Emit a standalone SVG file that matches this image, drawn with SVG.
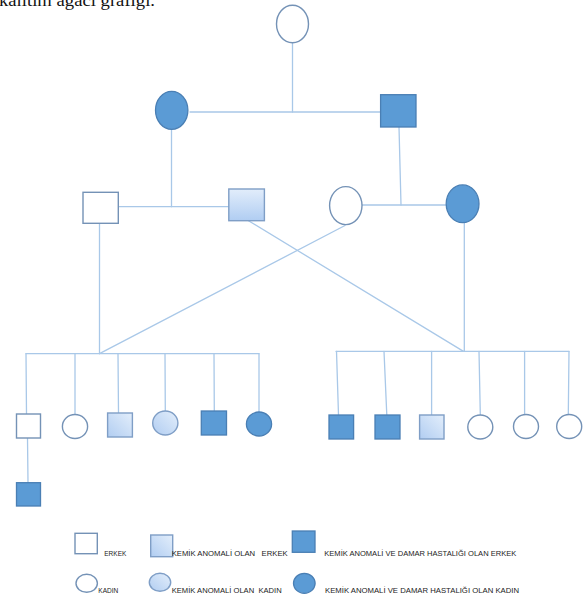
<svg xmlns="http://www.w3.org/2000/svg" width="586" height="599" viewBox="0 0 586 599">
<defs>
<linearGradient id="gv" x1="0" y1="0" x2="0" y2="1">
<stop offset="0" stop-color="#e2edfb"/><stop offset="1" stop-color="#b0cdf2"/>
</linearGradient>
<linearGradient id="gd" x1="1" y1="0" x2="0" y2="1">
<stop offset="0" stop-color="#e3eefb"/><stop offset="1" stop-color="#b1cdf1"/>
</linearGradient>
<style>
.c{stroke:#a9c8e8;stroke-width:1.3;fill:none;stroke-linecap:round}
.w{fill:#ffffff;stroke:#7492b6;stroke-width:1.4}
.l{fill:url(#gd);stroke:#7f9ec6;stroke-width:1.4}
.lv{fill:url(#gv);stroke:#7f9ec6;stroke-width:1.4}
.d{fill:#5b9bd5;stroke:#4a7fb4;stroke-width:1.3}
.t{font-family:"Liberation Sans",Arial,sans-serif;font-size:6.8px;fill:#222}
</style>
</defs>
<rect width="586" height="599" fill="#ffffff"/>
<text x="-1" y="5.5" font-family="'Liberation Serif','DejaVu Serif',serif" font-size="17" fill="#111" textLength="156" lengthAdjust="spacingAndGlyphs">kalıtım ağacı grafiği.</text>

<g id="connectors">
<line class="c" x1="292.5" y1="43" x2="292.5" y2="112"/>
<line class="c" x1="190" y1="112" x2="380.5" y2="112"/>
<line class="c" x1="171.5" y1="129.5" x2="171.5" y2="206.7"/>
<line class="c" x1="399" y1="127" x2="401" y2="205"/>
<line class="c" x1="101" y1="206.7" x2="229" y2="206.7"/>
<line class="c" x1="362" y1="205" x2="446" y2="205"/>
<line class="c" x1="99.5" y1="223.5" x2="99.5" y2="353.6"/>
<line class="c" x1="464.3" y1="222.7" x2="464.3" y2="351.4"/>
<line class="c" x1="345" y1="225.5" x2="99.5" y2="353.6"/>
<line class="c" x1="248.5" y1="220.7" x2="463.5" y2="351.4"/>
<line class="c" x1="26" y1="353.7" x2="259" y2="353.7"/>
<line class="c" x1="26" y1="353.7" x2="26.5" y2="414"/>
<line class="c" x1="75" y1="353.7" x2="75" y2="414"/>
<line class="c" x1="118" y1="353.7" x2="118.5" y2="413"/>
<line class="c" x1="165" y1="353.7" x2="165.3" y2="411"/>
<line class="c" x1="214" y1="353.7" x2="214.3" y2="411"/>
<line class="c" x1="259" y1="353.7" x2="259" y2="412"/>
<line class="c" x1="336" y1="351.3" x2="569" y2="351.3"/>
<line class="c" x1="336.5" y1="351.3" x2="338.5" y2="415"/>
<line class="c" x1="384" y1="351.3" x2="386.8" y2="415"/>
<line class="c" x1="431.6" y1="351.3" x2="431.6" y2="415"/>
<line class="c" x1="479" y1="351.3" x2="480.3" y2="414.5"/>
<line class="c" x1="524.6" y1="351.3" x2="524.6" y2="414.5"/>
<line class="c" x1="569" y1="351.3" x2="568.3" y2="414.5"/>
<line class="c" x1="27.5" y1="438" x2="28" y2="482.7"/>
</g>

<g id="gen0-woman"><ellipse class="w" cx="292.5" cy="24" rx="16" ry="18.7"/></g>
<g id="gen1-woman"><ellipse class="d" cx="171.7" cy="110.3" rx="16.2" ry="19"/></g>
<g id="gen1-man"><rect class="d" x="380.6" y="94.7" width="35.4" height="32.3"/></g>

<g id="gen2-man1"><rect class="w" x="83" y="192.3" width="35.3" height="31"/></g>
<g id="gen2-man2"><rect class="lv" x="228.8" y="189" width="35.6" height="31.7"/></g>
<g id="gen2-woman1"><ellipse class="w" cx="345.8" cy="205.6" rx="16.2" ry="19"/></g>
<g id="gen2-woman2"><ellipse class="d" cx="462.6" cy="203.8" rx="16.4" ry="18.9"/></g>

<g id="c1"><rect class="w" x="16.5" y="414" width="24" height="24"/></g>
<g id="c2"><ellipse class="w" cx="75" cy="426.5" rx="12.6" ry="12"/></g>
<g id="c3"><rect class="l" x="107.6" y="413" width="24.8" height="24"/></g>
<g id="c4"><ellipse class="l" cx="165.3" cy="423" rx="12.6" ry="12"/></g>
<g id="c5"><rect class="d" x="201.3" y="411" width="25.2" height="24"/></g>
<g id="c6"><ellipse class="d" cx="259" cy="424" rx="12.6" ry="12"/></g>
<g id="c7"><rect class="d" x="329" y="415" width="24.6" height="24"/></g>
<g id="c8"><rect class="d" x="375" y="415" width="25" height="24"/></g>
<g id="c9"><rect class="l" x="419.6" y="415" width="24.4" height="24"/></g>
<g id="c10"><ellipse class="w" cx="480.3" cy="427" rx="12.5" ry="12"/></g>
<g id="c11"><ellipse class="w" cx="526" cy="426.5" rx="12.5" ry="12"/></g>
<g id="c12"><ellipse class="w" cx="569.2" cy="426.5" rx="12.5" ry="12"/></g>
<g id="grandchild"><rect class="d" x="16.5" y="482.7" width="24" height="23.3"/></g>

<g id="legend-erkek"><rect class="w" x="75" y="533.3" width="22.3" height="20.4"/><text class="t" x="104.3" y="555.7" textLength="22" lengthAdjust="spacingAndGlyphs">ERKEK</text></g>
<g id="legend-kemik-erkek"><rect class="l" x="150.7" y="535" width="22" height="21.7"/><text class="t" x="171.7" y="555.7" xml:space="preserve" textLength="116" lengthAdjust="spacingAndGlyphs">KEMİK ANOMALİ OLAN   ERKEK</text></g>
<g id="legend-damar-erkek"><rect class="d" x="292.3" y="531" width="22.7" height="21.3"/><text class="t" x="324.3" y="555.9" textLength="192" lengthAdjust="spacingAndGlyphs">KEMİK ANOMALİ VE DAMAR HASTALIĞI OLAN ERKEK</text></g>
<g id="legend-kadin"><ellipse class="w" cx="86.7" cy="583.3" rx="10.7" ry="9"/><text class="t" x="98.3" y="592.7" textLength="20" lengthAdjust="spacingAndGlyphs">KADIN</text></g>
<g id="legend-kemik-kadin"><ellipse class="l" cx="160" cy="582.3" rx="10.7" ry="9"/><text class="t" x="171.7" y="592.7" xml:space="preserve" textLength="110" lengthAdjust="spacingAndGlyphs">KEMİK ANOMALİ OLAN  KADIN</text></g>
<g id="legend-damar-kadin"><ellipse class="d" cx="304.3" cy="583.3" rx="10.8" ry="10"/><text class="t" x="325" y="592.7" textLength="194" lengthAdjust="spacingAndGlyphs">KEMİK ANOMALİ VE DAMAR HASTALIĞI OLAN KADIN</text></g>
</svg>
